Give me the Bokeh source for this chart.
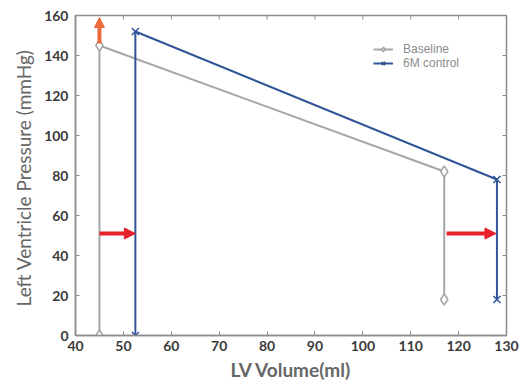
import math
from bokeh.plotting import figure
from bokeh.models import (Range1d, Legend, LegendItem, Arrow, NormalHead, FixedTicker)
from bokeh.embed import file_html
from bokeh.resources import INLINE

# data
baseline_vol = [45, 45, 117, 117]
baseline_prs = [0, 145, 82, 18]
control_vol = [52.5, 52.5, 128, 128]
control_prs = [0, 152, 78, 18]

# arrow annotations (data coords)
red_arrows_x0 = [45, 117.5]
red_arrows_x1 = [52.5, 127.8]
red_arrows_y = [51, 51]
orange_arrow_x = [45, 45]
orange_arrow_y = [146, 159]

x_ticks = [40, 50, 60, 70, 80, 90, 100, 110, 120, 130]
y_ticks = [0, 20, 40, 60, 80, 100, 120, 140, 160]
x_min, x_max = 40, 130
y_min, y_max = 0, 160

GRAY = "#a6a6a6"
AXC = "#8c8c8c"
BLUE = "#2f5597"
RED = "#e8202a"
ORANGE = "#ed6a3f"
FONT = "Lato"

p = figure(width=520, height=388, output_backend="svg", toolbar_location=None,
           x_range=Range1d(x_min, x_max), y_range=Range1d(y_min, y_max),
           min_border_left=75, min_border_right=14, min_border_top=15, min_border_bottom=53)
p.grid.visible = False
p.outline_line_color = AXC
p.outline_line_width = 1.5
p.background_fill_color = "white"

for ax in p.xaxis + p.yaxis:
    ax.major_tick_in = 4
    ax.major_tick_out = 0
    ax.minor_tick_line_color = None
    ax.axis_line_color = AXC
    ax.axis_line_width = 1.5
    ax.major_tick_line_color = AXC
    ax.major_label_text_font = FONT
    ax.major_label_text_font_style = "bold"
    ax.major_label_text_font_size = "14px"
    ax.major_label_text_color = "#3a3a3a"
    ax.axis_label_text_font = FONT
    ax.axis_label_text_color = "#666666"

p.xaxis.ticker = FixedTicker(ticks=x_ticks)
p.yaxis.ticker = FixedTicker(ticks=y_ticks)
p.xaxis.axis_label = "LV Volume(ml)"
p.yaxis.axis_label = "Left Ventricle  Pressure (mmHg)"
p.xaxis.axis_label_text_font_style = "bold"
p.xaxis.axis_label_text_font_size = "19px"
p.yaxis.axis_label_text_font_style = "normal"
p.yaxis.axis_label_text_font_size = "19px"
p.xaxis.major_label_standoff = 5
p.yaxis.major_label_standoff = 7
p.xaxis.axis_label_standoff = 4
p.yaxis.axis_label_standoff = 6

# inward ticks on top and right edges
p.scatter(x_ticks, [y_max] * len(x_ticks), marker="dash", angle=math.pi / 2, size=8,
          line_color=AXC, line_width=1)
p.scatter([x_max] * len(y_ticks), y_ticks, marker="dash", size=8,
          line_color=AXC, line_width=1)

bl = p.line(baseline_vol, baseline_prs, line_color=GRAY, line_width=2)
bm = p.scatter(baseline_vol, baseline_prs, marker="diamond", size=11, fill_color="white",
               line_color=GRAY, line_width=1.5)
cl = p.line(control_vol, control_prs, line_color=BLUE, line_width=2)
cm = p.scatter(control_vol, control_prs, marker="x", size=10, line_color=BLUE, line_width=1.5)

for x0, x1, y in zip(red_arrows_x0, red_arrows_x1, red_arrows_y):
    p.add_layout(Arrow(end=NormalHead(size=11, fill_color=RED, line_color=RED),
                       x_start=x0, y_start=y, x_end=x1, y_end=y,
                       line_color=RED, line_width=4))
p.add_layout(Arrow(end=NormalHead(size=10, fill_color=ORANGE, line_color=ORANGE),
                   x_start=orange_arrow_x[0], y_start=orange_arrow_y[0],
                   x_end=orange_arrow_x[1], y_end=orange_arrow_y[1],
                   line_color=ORANGE, line_width=4))

legend = Legend(items=[LegendItem(label="Baseline", renderers=[bl, bm]),
                       LegendItem(label="6M control", renderers=[cl, cm])],
                location=(298, 265), background_fill_alpha=0, border_line_color=None,
                label_text_font="Liberation Sans", label_text_font_size="12px",
                label_text_color="#8c8c8c", glyph_width=20, glyph_height=12,
                label_height=14, spacing=0, padding=2, margin=0, label_standoff=10)
p.add_layout(legend, "center")

open("out.html", "w").write(file_html(p, INLINE))
